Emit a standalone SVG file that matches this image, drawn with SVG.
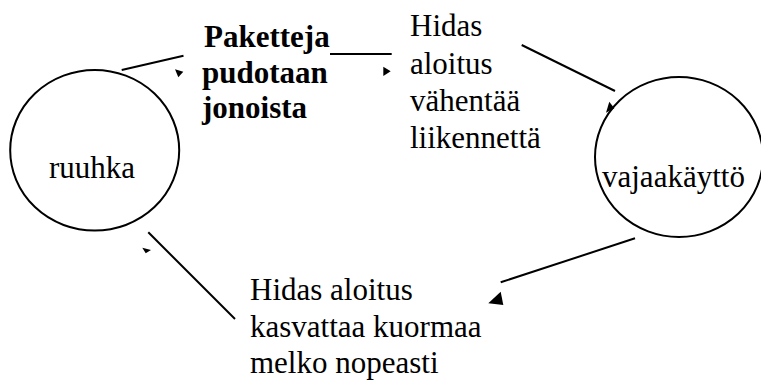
<svg xmlns="http://www.w3.org/2000/svg" width="761" height="381" viewBox="0 0 761 381">
<style>
.node{fill:none;stroke:#000;stroke-width:2}
.c line{stroke:#000;stroke-width:2}
.c polygon{fill:#000;stroke:none}
</style>
<rect width="761" height="381" fill="#fff"/>
<g id="ruuhka">
<ellipse class="node" cx="94.7" cy="150.3" rx="84.5" ry="80.3"/>
</g>
<g id="vajaakaytto">
<ellipse class="node" cx="679" cy="157" rx="84" ry="80"/>
</g>
<text x="49" y="178" font-family="Liberation Serif" font-size="31">ruuhka</text>
<text x="602" y="187" font-family="Liberation Serif" font-size="31">vajaak&#228;ytt&#246;</text>
<text x="204" y="47" font-family="Liberation Serif" font-size="31" font-weight="bold">Paketteja</text>
<text x="202" y="83" font-family="Liberation Serif" font-size="31" font-weight="bold">pudotaan</text>
<text x="202" y="118" font-family="Liberation Serif" font-size="31" font-weight="bold">jonoista</text>
<text x="410" y="36" font-family="Liberation Serif" font-size="31">Hidas</text>
<text x="410" y="74" font-family="Liberation Serif" font-size="31">aloitus</text>
<text x="410" y="111" font-family="Liberation Serif" font-size="31">v&#228;hent&#228;&#228;</text>
<text x="410" y="148" font-family="Liberation Serif" font-size="31">liikennett&#228;</text>
<text x="250" y="300" font-family="Liberation Serif" font-size="31">Hidas aloitus</text>
<text x="250" y="337" font-family="Liberation Serif" font-size="31">kasvattaa kuormaa</text>
<text x="250" y="373" font-family="Liberation Serif" font-size="31">melko nopeasti</text>
<g class="c" id="connectors">
<line x1="121.7" y1="70" x2="183.5" y2="55.7"/>
<polygon points="175,69.3 183.3,71.7 178.3,77.3"/>
<line x1="330" y1="54" x2="391.7" y2="54"/>
<polygon points="383.3,66.7 390.7,71.3 383.3,76"/>
<line x1="521.7" y1="45" x2="615" y2="91"/>
<polygon points="609.3,101.7 614.3,108.3 606,112.7"/>
<line x1="635" y1="238.3" x2="500.7" y2="282.3"/>
<polygon points="500.7,291.7 503.3,305 488.3,303.3"/>
<line x1="148.3" y1="232.3" x2="235" y2="319"/>
<polygon points="142.3,247.7 151,250 145.7,253.3"/>
</g>
</svg>
